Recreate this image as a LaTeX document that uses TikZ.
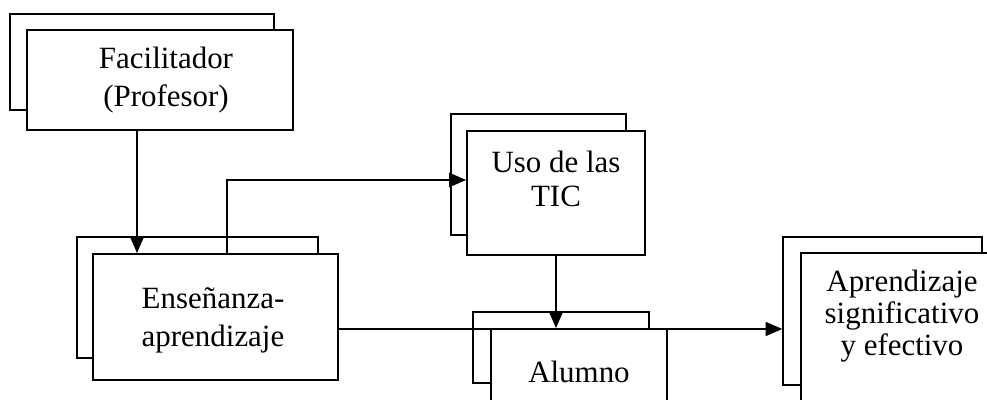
\documentclass[tikz,border=0pt]{standalone}
\usepackage{fontspec}
\setmainfont{Liberation Serif}
\usetikzlibrary{arrows.meta}

\begin{document}
\begin{tikzpicture}[x=0.025cm,y=-0.025cm,>={Triangle[length=12pt,width=10pt]},
  backbox/.style={draw,line width=0.9pt,inner sep=0pt},
  frontbox/.style={draw,fill=white,line width=1.3pt,inner sep=0pt},
  txt/.style={align=center,inner sep=0pt,font=\fontsize{22}{27}\selectfont},
  conn/.style={line width=1.3pt}]
  % one picture unit is one pixel of the 987x400 reference
  \def\px{0.025cm}
  \useasboundingbox (0,0) rectangle (987,400);

  % boxes behind
  \node[backbox,minimum width={264*\px},minimum height={96*\px}] (facB) at (142,62) {};
  \node[backbox,minimum width={241*\px},minimum height={121*\px}] (ensB) at (197.5,297.5) {};
  \node[backbox,minimum width={175*\px},minimum height={121*\px}] (usoB) at (538.5,174.5) {};
  \node[backbox,minimum width={176*\px},minimum height={71*\px}] (aluB) at (561,347.5) {};
  \node[backbox,minimum width={199*\px},minimum height={148*\px}] (aprB) at (882.5,311) {};

  % boxes in front
  \node[frontbox,minimum width={266*\px},minimum height={100*\px}] (fac) at (160,80) {};
  \node[frontbox,minimum width={245*\px},minimum height={126*\px}] (ens) at (215.5,317) {};
  \node[frontbox,minimum width={178*\px},minimum height={124*\px}] (uso) at (556,193) {};
  \node[frontbox,minimum width={176*\px},minimum height={88*\px}] (alu) at (579,373) {};
  \node[frontbox,minimum width={204*\px},minimum height={177*\px}] (apr) at (903,341.5) {};

  % texts
  \node[txt] (facT) at (166,80) {Facilitador\\(Profesor)};
  \node[txt] (ensT) at (213,320) {Enseñanza-\\aprendizaje};
  \node[txt,font=\fontsize{22}{24}\selectfont] (usoT) at (556,179) {Uso de las\\TIC};
  \node[txt] (aluT) at (579,372) {Alumno};
  \node[txt,font=\fontsize{22}{23}\selectfont] (aprT) at (902,316)
    {Aprendizaje\\significativo\\y efectivo};

  % connectors
  \draw[conn,->] (fac.south -| 137,0) -- (ens.north -| 137,0);
  \draw[conn,->] (ens.north -| 227,0) |- (uso.west |- 0,180);
  \draw[conn,->] (uso.south -| 556,0) -- (alu.north -| 556,0);
  \draw[conn,->] (ens.east |- 0,329) -- (aprB.west |- 0,329);
\end{tikzpicture}
\end{document}
